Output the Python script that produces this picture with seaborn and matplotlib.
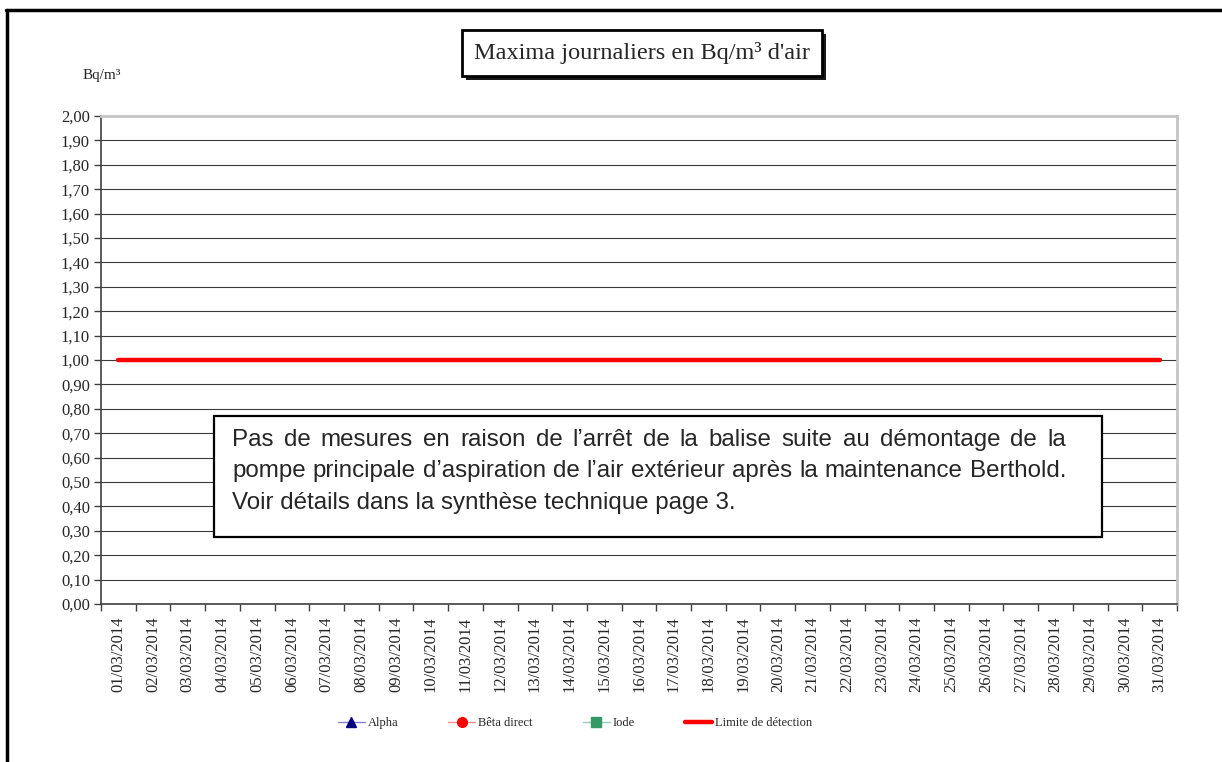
import numpy as np
import pandas as pd
import matplotlib
matplotlib.use("Agg")
import matplotlib.pyplot as plt
import seaborn as sns
from matplotlib.lines import Line2D
from matplotlib.patches import Rectangle
import matplotlib.patheffects as pe
from matplotlib.ticker import FuncFormatter, FixedLocator

# ---------------- data ----------------
dates = ["01/03/2014", "02/03/2014", "03/03/2014", "04/03/2014", "05/03/2014",
         "06/03/2014", "07/03/2014", "08/03/2014", "09/03/2014", "10/03/2014",
         "11/03/2014", "12/03/2014", "13/03/2014", "14/03/2014", "15/03/2014",
         "16/03/2014", "17/03/2014", "18/03/2014", "19/03/2014", "20/03/2014",
         "21/03/2014", "22/03/2014", "23/03/2014", "24/03/2014", "25/03/2014",
         "26/03/2014", "27/03/2014", "28/03/2014", "29/03/2014", "30/03/2014",
         "31/03/2014"]
alpha = [np.nan] * 31          # no measurement
beta_direct = [np.nan] * 31    # no measurement
iode = [np.nan] * 31           # no measurement
limite = [1.00] * 31           # detection limit
series_names = ["Alpha", "Bêta direct", "Iode", "Limite de détection"]
y_ticks = [0.0, 0.1, 0.2, 0.3, 0.4, 0.5, 0.6, 0.7, 0.8, 0.9, 1.0,
           1.1, 1.2, 1.3, 1.4, 1.5, 1.6, 1.7, 1.8, 1.9, 2.0]
title = "Maxima journaliers en Bq/m³ d'air"
unit = "Bq/m³"
note_lines = ["Pas de mesures en raison de l’arrêt de la balise suite au démontage de la",
              "pompe principale d’aspiration de l’air extérieur après la maintenance Berthold.",
              "Voir détails dans la synthèse technique page 3."]

df = pd.DataFrame({"date": dates, "Alpha": alpha, "Bêta direct": beta_direct,
                   "Iode": iode, "Limite": limite})

# ---------------- style ----------------
sns.set_theme(style="white")
plt.rcParams["font.family"] = ["Liberation Serif", "DejaVu Serif"]

W, H = 1222, 762
fig = plt.figure(figsize=(W / 100, H / 100), dpi=100)
ax = fig.add_axes([101 / W, 1 - 604 / H, (1177 - 101) / W, (604 - 116) / H])

grid_c = "#3a3a3a"
for v in y_ticks[:-1]:
    ax.axhline(v, color=grid_c, lw=0.8, zorder=1)

# empty series (no measurements) - kept for the legend
x_idx = np.arange(len(dates))
h_alpha, = ax.plot(x_idx, df["Alpha"], color="#8080c8", lw=1, marker="^",
                   markersize=7, markerfacecolor="#000080", markeredgecolor="#000080")
h_beta, = ax.plot(x_idx, df["Bêta direct"], color="#ff8c8c", lw=1, marker="o",
                  markersize=7, markerfacecolor="#ff0000", markeredgecolor="#ff0000")
h_iode, = ax.plot(x_idx, df["Iode"], color="#99ccaa", lw=1, marker="s",
                  markersize=7, markerfacecolor="#339966", markeredgecolor="#339966")

sns.lineplot(data=df, x="date", y="Limite", ax=ax, color="#ff0000", lw=3.2,
             sort=False, zorder=5, legend=False)
h_lim = Line2D([], [], color="#ff0000", lw=3.2)

ax.set_xlim(-0.5, len(dates) - 0.5)
ax.set_ylim(0, 2.0)
ax.set_xlabel("")
ax.set_ylabel("")

ax.yaxis.set_major_locator(FixedLocator(y_ticks))
ax.yaxis.set_major_formatter(FuncFormatter(lambda v, p: f"{v:.2f}".replace(".", ",")))
ax.set_xticks(x_idx)
ax.set_xticklabels(dates, rotation=90, fontsize=12)
ax.xaxis.set_minor_locator(FixedLocator(np.arange(-0.5, len(dates), 1.0)))
ax.tick_params(axis="x", which="major", length=0, pad=9)
ax.tick_params(axis="x", which="minor", length=5, width=1, color="#404040", direction="out")
ax.tick_params(axis="y", which="major", length=5, width=1, color="#404040",
               direction="out", labelsize=12, pad=3)
ax.tick_params(left=True, bottom=True, which="both")
for s in ["left", "bottom"]:
    ax.spines[s].set_color("#404040")
    ax.spines[s].set_linewidth(1.2)
for s in ["top", "right"]:
    ax.spines[s].set_color("#c4c4c4")
    ax.spines[s].set_linewidth(2)

# unit label
fig.text(102 / W, 1 - 76 / H, unit, fontsize=11, ha="center", va="center")

# title with shadowed box
t = fig.text(642 / W, 1 - 53 / H, title, fontsize=17.5, ha="center", va="center",
             bbox=dict(boxstyle="square,pad=0.5", fc="white", ec="black", lw=2))
t.get_bbox_patch().set_path_effects([
    pe.SimplePatchShadow(offset=(3, -3), shadow_rgbFace="black", alpha=0.9),
    pe.Normal()])

# note box
bx0, bx1, by0, by1 = 214, 1102, 416, 537
fig.add_artist(Rectangle((bx0 / W, 1 - by1 / H), (bx1 - bx0) / W, (by1 - by0) / H,
                         transform=fig.transFigure, fc="white", ec="black", lw=1.6,
                         zorder=10))
renderer = fig.canvas.get_renderer()
txt_left, txt_right = 232, 1066
line_y = [440, 471, 503]
note_font = "Liberation Sans"


def text_width(s, size):
    tt = fig.text(0, 0, s, fontsize=size, family=note_font)
    w = tt.get_window_extent(renderer).width
    tt.remove()
    return w

# font size chosen so that line 2 fills the text width
base = text_width(note_lines[1], 10)
note_size = 10 * (txt_right - txt_left) / base

for i, line in enumerate(note_lines):
    yy = 1 - line_y[i] / H
    if i < 2:
        words = line.split(" ")
        widths = [text_width(w_, note_size) for w_ in words]
        gap = ((txt_right - txt_left) - sum(widths)) / (len(words) - 1)
        x = txt_left
        for w_, ww in zip(words, widths):
            fig.text(x / W, yy, w_, fontsize=note_size, family=note_font,
                     ha="left", va="center", zorder=11)
            x += ww + gap
    else:
        fig.text(txt_left / W, yy, line, fontsize=note_size, family=note_font,
                 ha="left", va="center", zorder=11)

# legend
fig.legend([h_alpha, h_beta, h_iode, h_lim], series_names, loc="center",
           bbox_to_anchor=(575 / W, 1 - 723 / H), ncol=4, frameon=False,
           fontsize=9, handlelength=2.15, handletextpad=0.25, columnspacing=4.0)

# outer frame (left and top edges)
fig.add_artist(Line2D([6.5 / W, 6.5 / W], [0, 1 - 9.5 / H], transform=fig.transFigure,
                      color="black", lw=2.5))
fig.add_artist(Line2D([5.5 / W, 1], [1 - 9.5 / H, 1 - 9.5 / H], transform=fig.transFigure,
                      color="black", lw=2.5))

fig.savefig("out.png", dpi=100)
